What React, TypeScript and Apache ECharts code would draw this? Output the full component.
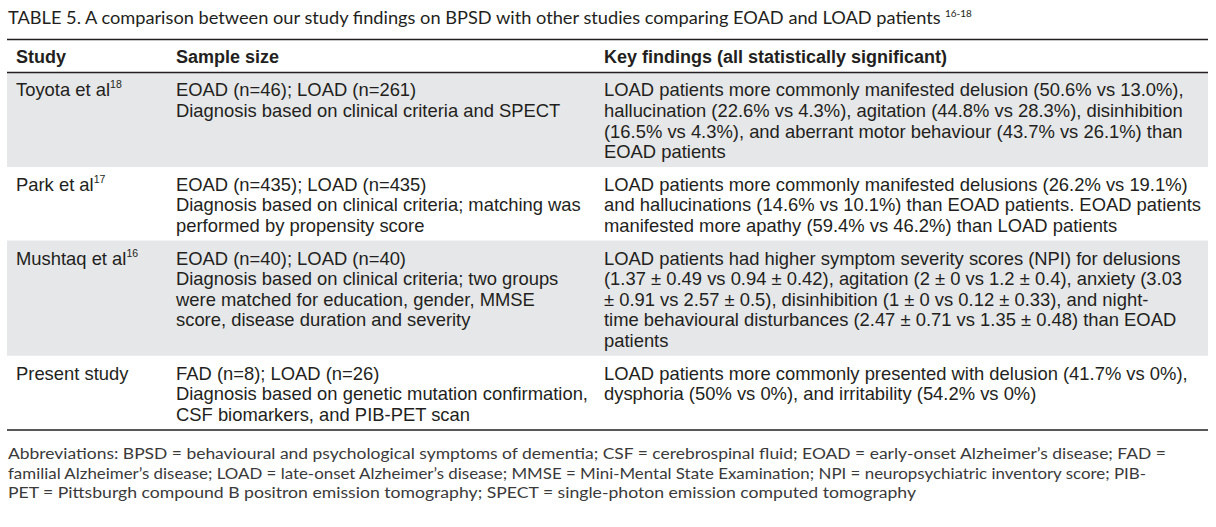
import React, { useEffect, useRef } from "react";
import * as echarts from "echarts";

const title =
  "TABLE 5. A comparison between our study findings on BPSD with other studies comparing EOAD and LOAD patients";
const titleRefs = "16-18";
const headers = ["Study", "Sample size", "Key findings (all statistically significant)"];
const studies = ["Toyota et al", "Park et al", "Mushtaq et al", "Present study"];
const studyRefs = ["18", "17", "16", ""];
const sampleSizes = [
  ["EOAD (n=46); LOAD (n=261)", "Diagnosis based on clinical criteria and SPECT"],
  [
    "EOAD (n=435); LOAD (n=435)",
    "Diagnosis based on clinical criteria; matching was",
    "performed by propensity score",
  ],
  [
    "EOAD (n=40); LOAD (n=40)",
    "Diagnosis based on clinical criteria; two groups",
    "were matched for education, gender, MMSE",
    "score, disease duration and severity",
  ],
  [
    "FAD (n=8); LOAD (n=26)",
    "Diagnosis based on genetic mutation confirmation,",
    "CSF biomarkers, and PIB-PET scan",
  ],
];
const findings = [
  [
    "LOAD patients more commonly manifested delusion (50.6% vs 13.0%),",
    "hallucination (22.6% vs 4.3%), agitation (44.8% vs 28.3%), disinhibition",
    "(16.5% vs 4.3%), and aberrant motor behaviour (43.7% vs 26.1%) than",
    "EOAD patients",
  ],
  [
    "LOAD patients more commonly manifested delusions (26.2% vs 19.1%)",
    "and hallucinations (14.6% vs 10.1%) than EOAD patients. EOAD patients",
    "manifested more apathy (59.4% vs 46.2%) than LOAD patients",
  ],
  [
    "LOAD patients had higher symptom severity scores (NPI) for delusions",
    "(1.37 ± 0.49 vs 0.94 ± 0.42), agitation (2 ± 0 vs 1.2 ± 0.4), anxiety (3.03",
    "± 0.91 vs 2.57 ± 0.5), disinhibition (1 ± 0 vs 0.12 ± 0.33), and night-",
    "time behavioural disturbances (2.47 ± 0.71 vs 1.35 ± 0.48) than EOAD",
    "patients",
  ],
  [
    "LOAD patients more commonly presented with delusion (41.7% vs 0%),",
    "dysphoria (50% vs 0%), and irritability (54.2% vs 0%)",
  ],
];
const abbreviations = [
  "Abbreviations: BPSD = behavioural and psychological symptoms of dementia; CSF = cerebrospinal fluid; EOAD = early-onset Alzheimer’s disease; FAD =",
  "familial Alzheimer’s disease; LOAD = late-onset Alzheimer’s disease; MMSE = Mini-Mental State Examination; NPI = neuropsychiatric inventory score; PIB-",
  "PET = Pittsburgh compound B positron emission tomography; SPECT = single-photon emission computed tomography",
];

const INK = "#231f20";
const GRAY = "#e6e7e9";
const BODY_FONT = "'Liberation Sans', Arial, sans-serif";
const TITLE_FONT = "Lato, 'Open Sans', sans-serif";

let ctx: CanvasRenderingContext2D | null = null;
function measure(text: string, font: string): number {
  if (!ctx) ctx = document.createElement("canvas").getContext("2d");
  if (!ctx) return text.length * 8;
  ctx.font = font;
  return ctx.measureText(text).width;
}

function buildElements() {
  const els: any[] = [];
  const left = 7;
  const right = 1208;
  const colX = [16, 176, 604];
  const bodySize = 18.4;
  const headSize = 18;
  const lineH = 20.65;

  // title, fitted to reference width
  const titleEnd = 944;
  const titleSize = 17;
  const tw = measure(title, `${titleSize}px ${TITLE_FONT}`);
  els.push({
    type: "text",
    x: 8,
    y: 18,
    scaleX: (titleEnd - 8) / tw,
    style: { text: title, font: `${titleSize}px ${TITLE_FONT}`, fill: INK, textVerticalAlign: "middle" },
  });
  els.push({
    type: "text",
    x: titleEnd + 1,
    y: 13,
    style: { text: titleRefs, font: `10px ${TITLE_FONT}`, fill: INK, textVerticalAlign: "middle" },
  });

  const topLine = 39.5;
  const headLine = 72.5;
  const bottomLine = 430;

  // header
  headers.forEach((h, i) => {
    els.push({
      type: "text",
      x: colX[i],
      y: 57,
      style: { text: h, font: `bold ${headSize}px ${BODY_FONT}`, fill: INK, textVerticalAlign: "middle" },
    });
  });

  // rows
  let rowTop = headLine;
  const rowEls: any[] = [];
  studies.forEach((s, r) => {
    const n = Math.max(sampleSizes[r].length, findings[r].length);
    const h = r === studies.length - 1 ? bottomLine - rowTop : n * 20.7 + 11.6;
    if (r % 2 === 0) {
      els.push({ type: "rect", shape: { x: left, y: rowTop, width: right - left, height: h }, style: { fill: GRAY }, z: -1 });
    }
    const y0 = rowTop + 17.4;
    rowEls.push({
      type: "text",
      x: colX[0],
      y: y0,
      style: { text: s, font: `${bodySize}px ${BODY_FONT}`, fill: INK, textVerticalAlign: "middle" },
    });
    if (studyRefs[r]) {
      const w = measure(s, `${bodySize}px ${BODY_FONT}`);
      rowEls.push({
        type: "text",
        x: colX[0] + w,
        y: y0 - 5.5,
        style: { text: studyRefs[r], font: `10.5px ${BODY_FONT}`, fill: INK, textVerticalAlign: "middle" },
      });
    }
    sampleSizes[r].forEach((t, k) => {
      rowEls.push({
        type: "text",
        x: colX[1],
        y: y0 + k * lineH,
        style: { text: t, font: `${bodySize}px ${BODY_FONT}`, fill: INK, textVerticalAlign: "middle" },
      });
    });
    findings[r].forEach((t, k) => {
      rowEls.push({
        type: "text",
        x: colX[2],
        y: y0 + k * lineH,
        style: { text: t, font: `${bodySize}px ${BODY_FONT}`, fill: INK, textVerticalAlign: "middle" },
      });
    });
    rowTop += h;
  });
  els.push(...rowEls);

  [topLine, headLine, bottomLine].forEach((y) => {
    els.push({
      type: "line",
      shape: { x1: left, y1: y, x2: right, y2: y },
      style: { stroke: INK, lineWidth: 1.5 },
    });
  });

  // abbreviations, each line fitted to the reference line width
  const abTargets = [1159, 1140, 910];
  const abSize = 15.6;
  abbreviations.forEach((t, k) => {
    const w = measure(t, `${abSize}px ${TITLE_FONT}`);
    els.push({
      type: "text",
      x: 8,
      y: 453 + k * 19.7,
      scaleX: abTargets[k] / w,
      style: { text: t, font: `${abSize}px ${TITLE_FONT}`, fill: "#3a3a3a", textVerticalAlign: "middle" },
    });
  });
  return els;
}

export default function App() {
  const ref = useRef<HTMLDivElement>(null);
  useEffect(() => {
    document.body.style.margin = "0";
    if (!ref.current) return;
    const chart = echarts.init(ref.current, undefined, { renderer: "svg" });
    chart.setOption({
      animation: false,
      backgroundColor: "#ffffff",
      graphic: { elements: buildElements() },
    });
    return () => chart.dispose();
  }, []);
  return <div ref={ref} style={{ width: 1216, height: 527 }} />;
}
